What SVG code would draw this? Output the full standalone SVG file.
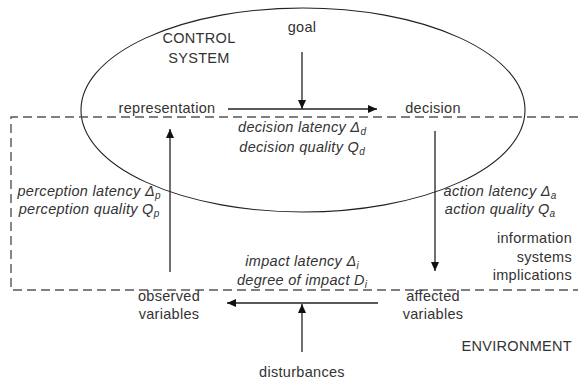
<svg xmlns="http://www.w3.org/2000/svg" width="578" height="383" viewBox="0 0 578 383">
<defs>
<marker id="ah" markerWidth="9" markerHeight="8" refX="9" refY="4" orient="auto" markerUnits="userSpaceOnUse">
<path d="M0,0 L9,4 L0,8 Z" fill="#111"/>
</marker>
<style>
text{font-family:"Liberation Sans",Arial,sans-serif;font-size:14.5px;letter-spacing:0.3px;fill:#333}
.c{text-anchor:middle}
.r{text-anchor:end}
.i{font-style:italic}
.s{font-size:10px;letter-spacing:0}
.ln{stroke:#222;stroke-width:1.3;fill:none}
.dash{stroke:#555;stroke-width:1.4;fill:none;stroke-dasharray:9,5}
</style>
</defs>
<rect width="578" height="383" fill="#fff"/>
<g id="control-system">
<ellipse cx="303" cy="110" rx="222" ry="102" fill="none" stroke="#222" stroke-width="1.1"/>
<text class="c" x="199" y="43">CONTROL</text>
<text class="c" x="199" y="63">SYSTEM</text>
</g>
<g id="is-boundary">
<path class="dash" d="M578,117 H11 V290 H578"/>
<text class="r" x="572" y="243">information</text>
<text class="r" x="572" y="261.5">systems</text>
<text class="r" x="572" y="280">implications</text>
</g>
<g id="environment"><text class="r" x="572" y="351">ENVIRONMENT</text></g>
<g id="goal"><text class="c" x="302" y="32">goal</text></g>
<g id="representation"><text class="c" x="167" y="113">representation</text></g>
<g id="decision"><text class="c" x="433" y="113">decision</text></g>
<g id="observed"><text class="c" x="169" y="301">observed</text><text class="c" x="169" y="319">variables</text></g>
<g id="affected"><text class="c" x="433" y="301">affected</text><text class="c" x="433" y="319">variables</text></g>
<g id="disturbances"><text class="c" x="302" y="377">disturbances</text></g>
<g id="connectors">
<line class="ln" x1="302" y1="52" x2="302" y2="109" marker-end="url(#ah)"/>
<line class="ln" x1="228" y1="109" x2="377" y2="109" marker-end="url(#ah)"/>
<line class="ln" x1="435" y1="131" x2="435" y2="271" marker-end="url(#ah)"/>
<line class="ln" x1="170" y1="272" x2="170" y2="129" marker-end="url(#ah)"/>
<line class="ln" x1="378" y1="303" x2="227" y2="303" marker-end="url(#ah)"/>
<line class="ln" x1="302" y1="352" x2="302" y2="304" marker-end="url(#ah)"/>
</g>
<g id="labels">
<text class="c i" x="302" y="132">decision latency Δ<tspan class="s" dy="3">d</tspan></text>
<text class="c i" x="302" y="152">decision quality Q<tspan class="s" dy="3">d</tspan></text>
<text class="c i" x="89" y="196">perception latency Δ<tspan class="s" dy="3">p</tspan></text>
<text class="c i" x="89" y="214">perception quality Q<tspan class="s" dy="3">p</tspan></text>
<text class="c i" x="500" y="196">action latency Δ<tspan class="s" dy="3">a</tspan></text>
<text class="c i" x="500" y="214">action quality Q<tspan class="s" dy="3">a</tspan></text>
<text class="c i" x="302" y="266">impact latency Δ<tspan class="s" dy="3">i</tspan></text>
<text class="c i" x="302" y="285">degree of impact D<tspan class="s" dy="3">i</tspan></text>
</g>
</svg>
